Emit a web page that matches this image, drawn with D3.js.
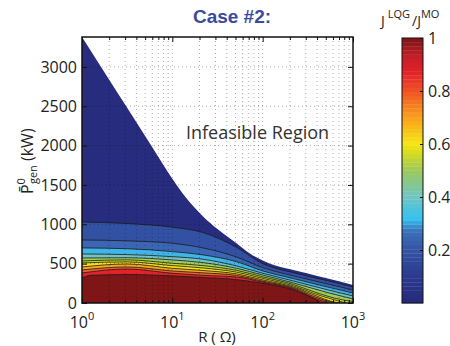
<!DOCTYPE html>
<html>
<head>
<meta charset="utf-8">
<script src="https://cdn.jsdelivr.net/npm/d3@7"></script>
<style>
  body { margin: 0; background: #fff; }
  svg { display: block; }
  text { font-family: "Open Sans", "DejaVu Sans", sans-serif; fill: #222; }
</style>
</head>
<body>
<div id="chart"></div>
<script>
// contour lines: [R (ohm), P (kW)]
const boundary = [[1,3380],[1.778,2930],[3.162,2480],[5.623,2030],[10,1580],[14.13,1340],[21.88,1100],[31.62,940],[51.29,760],[70.8,635],[100,540],[141,472],[218.8,420],[316.2,375],[512.9,314],[1000,229]];
const level1 = [[1,1030],[3.162,1010],[10,963],[21.88,895],[51.29,708],[100,500],[218.8,385],[512.9,285],[1000,204]];
const level2 = [[1,801],[3.162,790],[10,759],[21.88,700],[51.29,585],[100,450],[218.8,345],[512.9,245],[1000,165]];
const level3 = [[1,700],[3.162,690],[10,653],[21.88,611],[51.29,525],[100,408],[218.8,310],[512.9,205],[1000,127]];
const level4 = [[1,623],[3.162,615],[10,589],[21.88,556],[51.29,471],[100,378],[218.8,280],[512.9,170],[1000,89]];
const level5 = [[1,572],[3.162,575],[10,547],[21.88,513],[51.29,441],[100,355],[218.8,255],[512.9,135],[1000,51]];
const level6 = [[1,534],[3.162,548],[10,505],[21.88,475],[51.29,415],[100,333],[218.8,235],[398.1,130],[631,60],[1000,19]];
const level7 = [[1,509],[3.162,522],[10,475],[21.88,445],[51.29,392],[100,313],[218.8,218],[398.1,108],[631,38],[831.8,0]];
const level8 = [[1,458],[3.162,496],[10,441],[21.88,413],[51.29,370],[100,294],[218.8,203],[398.1,88],[562.3,24],[707.9,0]];
const level9 = [[1,420],[3.162,458],[10,407],[21.88,383],[51.29,350],[100,278],[218.8,190],[398.1,68],[616.6,0]];
const level10 = [[1,382],[3.162,432],[10,378],[21.88,352],[51.29,330],[100,265],[218.8,178],[398.1,50],[537,0]];
const level11 = [[1,318],[1.259,352],[3.162,362],[10,345],[21.88,325],[51.29,298],[100,250],[218.8,165],[316.2,90],[398.1,35],[457.1,0]];

const bands = [boundary, level1, level2, level3, level4, level5, level6, level7, level8, level9, level10, level11];
const bandColors = ["#282c7f","#3251a3","#3b66b4","#3fb6e7","#72c5bf","#a2cc5c","#cbd82c","#f4e51a","#f8a41d","#f0602a","#e3222a","#7e1517"];

const yTicks = [0, 500, 1000, 1500, 2000, 2500, 3000];
const xTicks = [1, 10, 100, 1000];
const xTickExp = ["0", "1", "2", "3"];
const cbarTicks = [0.2, 0.4, 0.6, 0.8, 1];

// printed-jet colour ramp of the colour bar
const rampPos = [0, 0.1, 0.2, 0.27, 0.32, 0.4, 0.5, 0.55, 0.6, 0.7, 0.8, 0.87, 0.93, 1];
const rampCol = ["#262a7a","#2b3a8f","#3454a3","#3b70b8","#35c2ef","#6fc5c3","#9cc95a","#c8d72c","#f5e614","#f9a11c","#ef5325","#e42129","#c21f26","#7d1416"];

const W = 450, H = 346;
const svg = d3.select("#chart").append("svg").attr("width", W).attr("height", H);

const x = d3.scaleLog().domain([1, 1000]).range([82, 353]);
const y = d3.scaleLinear().domain([0, 3380]).range([303, 37]);

svg.append("clipPath").attr("id", "plot")
  .append("rect").attr("x", 82).attr("y", 37).attr("width", 271).attr("height", 266);

const g = svg.append("g").attr("clip-path", "url(#plot)");

const area = d3.area()
  .x(d => x(d[0]))
  .y0(y(0))
  .y1(d => y(d[1]))
  .curve(d3.curveMonotoneX);

const line = d3.line()
  .x(d => x(d[0]))
  .y(d => y(d[1]))
  .curve(d3.curveMonotoneX);

g.selectAll(".band")
  .data(bands)
  .enter().append("path")
  .attr("class", "band")
  .attr("d", area)
  .attr("fill", (d, i) => bandColors[i]);

g.selectAll(".cline")
  .data(bands.slice(1))
  .enter().append("path")
  .attr("class", "cline")
  .attr("d", line)
  .attr("fill", "none")
  .attr("stroke", "#1a1a1a")
  .attr("stroke-width", 0.8);

// dotted grid
const minors = [];
for (let e = 0; e < 3; e++) for (let k = 2; k <= 9; k++) minors.push(k * Math.pow(10, e));
const grid = svg.append("g").attr("clip-path", "url(#plot)")
  .attr("stroke", "#000").attr("stroke-opacity", 0.4).attr("stroke-width", 0.8)
  .attr("stroke-dasharray", "1,3");
grid.selectAll(".vx").data(minors.concat([10, 100])).enter().append("line")
  .attr("x1", d => x(d)).attr("x2", d => x(d)).attr("y1", 37).attr("y2", 303);
grid.selectAll(".hy").data(yTicks.slice(1)).enter().append("line")
  .attr("x1", 82).attr("x2", 353).attr("y1", d => y(d)).attr("y2", d => y(d));

svg.append("text")
  .attr("x", 186).attr("y", 139)
  .style("font-size", "18px").style("fill", "#333")
  .text("Infeasible Region");

// axes, ticks inside
const yAxis = svg.append("g").attr("transform", "translate(82,0)")
  .call(d3.axisLeft(y).tickValues(yTicks).tickSize(-5).tickPadding(5).tickFormat(d3.format("d")));
svg.append("g").attr("transform", "translate(353,0)")
  .call(d3.axisRight(y).tickValues(yTicks).tickSize(-5).tickFormat(""));
svg.append("g").attr("transform", "translate(0,303)")
  .call(d3.axisBottom(x).tickValues(xTicks).tickSize(-5).tickFormat(""));
svg.append("g").attr("transform", "translate(0,303)")
  .call(d3.axisBottom(x).tickValues(minors).tickSize(-3).tickFormat(""));
svg.append("g").attr("transform", "translate(0,37)")
  .call(d3.axisTop(x).tickValues(xTicks).tickSize(-5).tickFormat(""));
svg.append("g").attr("transform", "translate(0,37)")
  .call(d3.axisTop(x).tickValues(minors).tickSize(-3).tickFormat(""));
svg.selectAll(".domain").remove();
svg.selectAll(".tick line").attr("stroke", "#111");
yAxis.selectAll("text").style("font-size", "16px").style("font-family", "'Open Sans', sans-serif").attr("fill", "#222");

svg.append("rect").attr("x", 82).attr("y", 37).attr("width", 271).attr("height", 266)
  .attr("fill", "none").attr("stroke", "#111").attr("stroke-width", 1.5);

const xl = svg.append("g").selectAll("text").data(xTicks).enter().append("text")
  .attr("x", d => x(d)).attr("y", 328)
  .attr("text-anchor", "middle").style("font-size", "16px");
xl.append("tspan").text("10");
xl.append("tspan").attr("dy", -8).style("font-size", "11px").text((d, i) => xTickExp[i]);

svg.append("text").attr("x", 217).attr("y", 342).attr("text-anchor", "middle")
  .style("font-size", "15px").text("R ( \u03A9)");

const yl = svg.append("text").attr("transform", "translate(33,194) rotate(-90)")
  .style("font-size", "16px");
yl.append("tspan").text("P\u0304");
yl.append("tspan").attr("dy", -8).style("font-size", "11px").text("0");
yl.append("tspan").attr("dx", -6).attr("dy", 12).style("font-size", "11px").text("gen");
yl.append("tspan").attr("dy", -4).text(" (kW)");

svg.append("text").attr("x", 232).attr("y", 23).attr("text-anchor", "middle")
  .style("font-family", "'Liberation Sans', Arial, sans-serif").style("font-weight", "bold")
  .style("font-size", "19px").style("fill", "#3a4a9e").text("Case #2:");

// colour bar
const ramp = d3.scaleLinear().domain(rampPos).range(rampCol).interpolate(d3.interpolateRgb);
const cy = d3.scaleLinear().domain([0, 1]).range([303, 38]);
const steps = d3.range(64);
svg.append("g").selectAll("rect").data(steps).enter().append("rect")
  .attr("x", 402).attr("width", 21)
  .attr("y", d => cy((d + 1) / 64)).attr("height", cy(0) - cy(1 / 64) + 0.3)
  .attr("fill", d => ramp((d + 0.5) / 64));
svg.append("rect").attr("x", 402).attr("y", 38).attr("width", 21).attr("height", 265)
  .attr("fill", "none").attr("stroke", "#111").attr("stroke-width", 1);
svg.append("g").attr("transform", "translate(423,0)")
  .call(d3.axisRight(cy).tickValues(cbarTicks).tickSize(-3).tickPadding(5).tickFormat(d => d === 1 ? "1" : d3.format(".1f")(d)))
  .call(a => a.select(".domain").remove())
  .call(a => a.selectAll("text").style("font-size", "16px").style("font-family", "'Open Sans', sans-serif").attr("fill", "#222"))
  .call(a => a.selectAll("line").attr("stroke", "#111"));

const ct = svg.append("text").attr("x", 381).attr("y", 26).style("font-size", "14px");
ct.append("tspan").text("J");
ct.append("tspan").attr("dx", 3).attr("dy", -8).style("font-size", "11px").text("LQG");
ct.append("tspan").attr("dx", 2).attr("dy", 8).text("/J");
ct.append("tspan").attr("dy", -8).style("font-size", "11px").text("MO");
</script>
</body>
</html>
